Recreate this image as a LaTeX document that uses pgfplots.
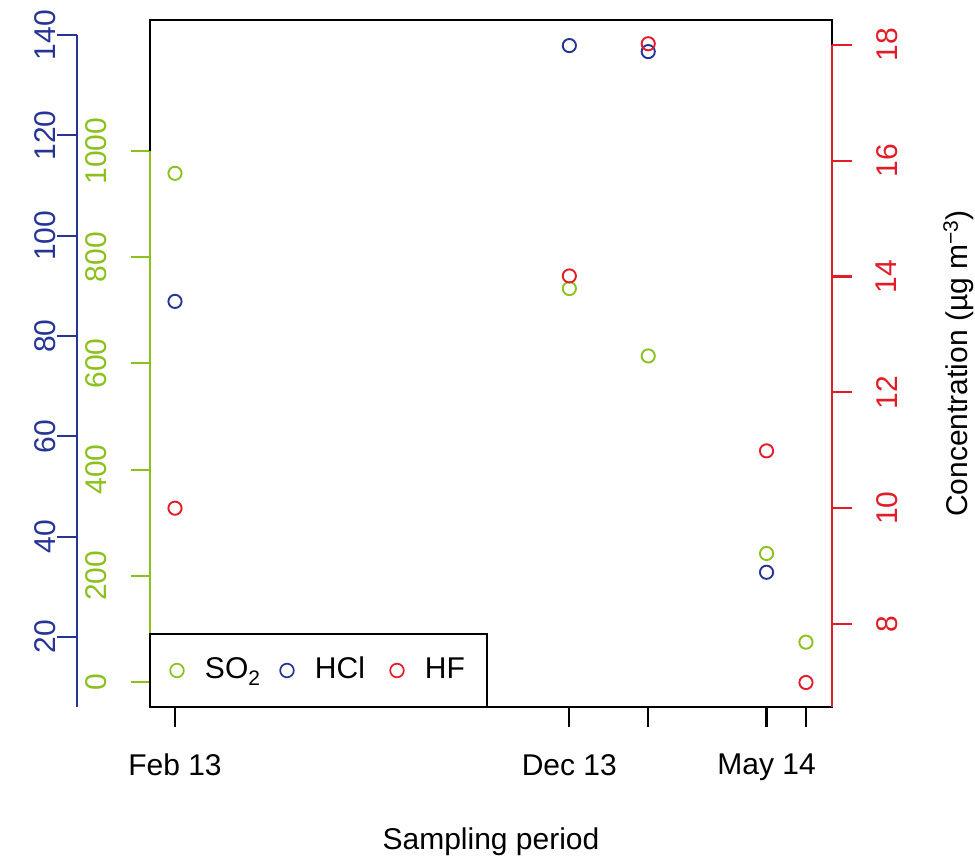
\documentclass[border=0pt]{standalone}
\usepackage{fontspec}
\setmainfont{Liberation Sans}
\usepackage{pgfplots}
\pgfplotsset{compat=1.18}
\definecolor{sgreen}{RGB}{140,192,28}
\definecolor{sblue}{RGB}{38,52,150}
\definecolor{sred}{RGB}{226,28,40}
\begin{document}
\fontsize{30}{36}\selectfont
\begin{tikzpicture}
\useasboundingbox (-150pt,-150pt) rectangle (825pt,707pt);
\pgfplotsset{
  base/.style={
    scale only axis, width=682pt, height=687pt,
    xmin=-0.634, xmax=16.66, clip=false,
    axis line style={draw=none},
    tick align=outside, major tick length=19.5pt,
    /pgf/number format/assume math mode=true,
  },
}
% SO2 (green) axis with x axis
\begin{axis}[base,
  ymin=-47.1, ymax=1246.7,
  xtick={0,10,12,15,16}, xticklabels={Feb 13,Dec 13,,May 14,},
  xtick pos=bottom, xticklabel pos=bottom,
  x tick style={black, line width=2.1pt},
  xticklabel style={black, inner sep=0pt, anchor=north},
  xticklabel shift=27.5pt,
  ytick={0,200,400,600,800,1000}, yticklabels={0,200,400,600,800,1000},
  ytick pos=left,
  y tick style={sgreen, line width=2.1pt},
  yticklabel style={rotate=90, anchor=south, inner sep=0pt, text=sgreen},
  yticklabel shift=23.5pt,
  xlabel={Sampling period},
  xlabel style={at={(rel axis cs:0.5,0)}, anchor=north, inner sep=0pt, yshift=-121pt},
]
\addplot[only marks, mark=o, mark size=6.6pt, sgreen, line width=1.9pt]
  coordinates {(0,958) (10,741) (12,614) (15,242) (16,75)};
\draw[black, line width=2pt] (rel axis cs:0,0) rectangle (rel axis cs:1,1);
\draw[sgreen, line width=2pt] (rel axis cs:0,0) -- (rel axis cs:0,0.8093);
\end{axis}
% HCl (blue) data
\begin{axis}[base, hide axis, ymin=6.04, ymax=143.0]
\addplot[only marks, mark=o, mark size=6.6pt, sblue, line width=1.9pt]
  coordinates {(0,86.9) (10,137.9) (12,136.7) (15,32.9)};
\end{axis}
% HF (red) axis with legend
\begin{axis}[base,
  ymin=6.567, ymax=18.43,
  xtick=\empty,
  ytick={8,10,12,14,16,18}, yticklabels={8,10,12,14,16,18},
  ytick pos=right, yticklabel pos=right,
  y tick style={sred, line width=2.1pt},
  yticklabel style={rotate=90, anchor=north, inner sep=0pt, text=sred},
  yticklabel shift=24.5pt,
  ylabel={Concentration (µg m\textsuperscript{\char"2212 3})},
  ylabel style={at={(rel axis cs:1,0.5)}, anchor=base, inner sep=0pt, yshift=-135pt},
  legend columns=3,
  legend style={at={(0,0)}, anchor=south west, draw=black, line width=2pt,
    fill=white, outer sep=0pt, inner xsep=0pt, inner ysep=23pt, column sep=0pt,
    nodes={anchor=west, inner sep=0pt, text height=22pt, text depth=5pt}},
  legend image code/.code={\path[draw=none] (0pt,0pt) -- (55pt,0pt);
    \draw[#1] plot coordinates {(27pt,0pt)};},
]
\addplot[only marks, mark=o, mark size=6.6pt, sred, line width=1.9pt, forget plot]
  coordinates {(0,10.0) (10,14.01) (12,18.02) (15,10.99) (16,6.99)};
\draw[sred, line width=2pt] (rel axis cs:1,0) -- (rel axis cs:1,0.9638);
\addlegendimage{mark=o, mark size=6.8pt, sgreen, line width=1.7pt}
\addlegendentry{\makebox[55pt][l]{SO\textsubscript{2}}}
\addlegendimage{mark=o, mark size=6.8pt, sblue, line width=1.7pt}
\addlegendentry{\makebox[55pt][l]{HCl}}
\addlegendimage{mark=o, mark size=6.8pt, sred, line width=1.7pt}
\addlegendentry{\makebox[62pt][l]{HF}}
\end{axis}
% HCl (blue) scale, shifted left
\begin{axis}[base, at={(-73pt,0pt)}, anchor=south west,
  xmin=0, xmax=1, ymin=6.04, ymax=143.0,
  xtick=\empty,
  ytick={20,40,60,80,100,120,140}, yticklabels={20,40,60,80,100,120,140},
  ytick pos=left,
  y tick style={sblue, line width=2.1pt},
  yticklabel style={rotate=90, anchor=south, inner sep=0pt, text=sblue},
  yticklabel shift=1.5pt,
]
\draw[sblue, line width=2pt] (rel axis cs:0,0) -- (rel axis cs:0,0.978);
\end{axis}
\end{tikzpicture}
\end{document}
